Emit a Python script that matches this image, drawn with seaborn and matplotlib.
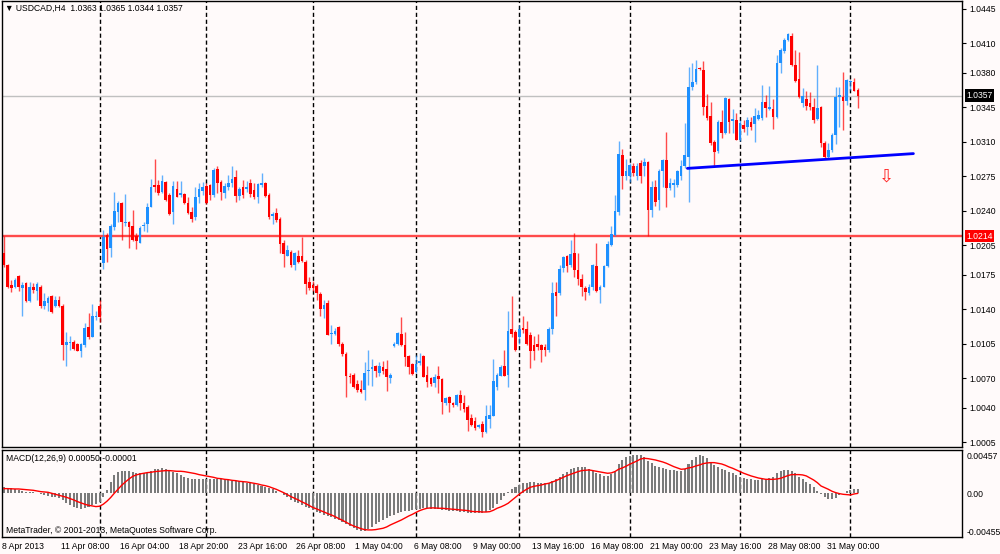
import numpy as np
import matplotlib
matplotlib.use("Agg")
import matplotlib.pyplot as plt
import matplotlib.transforms as mtransforms
import seaborn as sns

# ==========================================
# DATA (USDCAD H4)
# ==========================================
opens = [
    1.0197, 1.0185, 1.0165, 1.0163, 1.0174, 1.0161, 1.0167, 1.0148, 1.0163, 1.0158,
    1.0163, 1.0143, 1.0146, 1.0153, 1.0143, 1.0149, 1.0143, 1.0104, 1.0106, 1.0107,
    1.0105, 1.0097, 1.0104, 1.0122, 1.0112, 1.0132, 1.0143, 1.0187, 1.0215, 1.0202,
    1.0223, 1.0239, 1.0248, 1.0228, 1.0229, 1.0224, 1.0214, 1.0207, 1.0224, 1.0227,
    1.0244, 1.0266, 1.0266, 1.0259, 1.0269, 1.0256, 1.0239, 1.0262, 1.0256, 1.0257,
    1.0248, 1.0239, 1.0234, 1.0254, 1.0260, 1.0265, 1.0266, 1.0256, 1.0282, 1.0269,
    1.0258, 1.0264, 1.0268, 1.0274, 1.0255, 1.0264, 1.0262, 1.0268, 1.0261, 1.0254,
    1.0266, 1.0268, 1.0256, 1.0235, 1.0238, 1.0232, 1.0207, 1.0194, 1.0198, 1.0185,
    1.0194, 1.0194, 1.0188, 1.0168, 1.0165, 1.0164, 1.0155, 1.0140, 1.0146, 1.0115,
    1.0115, 1.0122, 1.0105, 1.0094, 1.0072, 1.0073, 1.0064, 1.0059, 1.0058, 1.0077,
    1.0079, 1.0082, 1.0075, 1.0081, 1.0079, 1.0070, 1.0103, 1.0105, 1.0115, 1.0104,
    1.0092, 1.0084, 1.0076, 1.0085, 1.0092, 1.0073, 1.0070, 1.0065, 1.0072, 1.0069,
    1.0045, 1.0051, 1.0045, 1.0043, 1.0053, 1.0045, 1.0041, 1.0029, 1.0026, 1.0020,
    1.0023, 1.0015, 1.0028, 1.0031, 1.0061, 1.0072, 1.0082, 1.0073, 1.0120, 1.0117,
    1.0112, 1.0121, 1.0120, 1.0114, 1.0104, 1.0105, 1.0104, 1.0102, 1.0099, 1.0120,
    1.0157, 1.0156, 1.0182, 1.0194, 1.0185, 1.0197, 1.0180, 1.0171, 1.0161, 1.0156,
    1.0163, 1.0184, 1.0159, 1.0163, 1.0184, 1.0205, 1.0215, 1.0239, 1.0297, 1.0275,
    1.0275, 1.0285, 1.0275, 1.0288, 1.0285, 1.0289, 1.0241, 1.0264, 1.0251, 1.0280,
    1.0292, 1.0263, 1.0266, 1.0266, 1.0275, 1.0285, 1.0295, 1.0366, 1.0371, 1.0385,
    1.0383, 1.0346, 1.0336, 1.0310, 1.0301, 1.0330, 1.0319, 1.0353, 1.0331, 1.0332,
    1.0312, 1.0327, 1.0325, 1.0330, 1.0328, 1.0333, 1.0334, 1.0350, 1.0343, 1.0343,
    1.0335, 1.0390, 1.0402, 1.0413, 1.0417, 1.0388, 1.0374, 1.0349, 1.0353, 1.0349,
    1.0345, 1.0333, 1.0345, 1.0309, 1.0295, 1.0302, 1.0317, 1.0355, 1.0355, 1.0351,
    1.0371, 1.0371, 1.0363]

highs = [
    1.0214, 1.0186, 1.0170, 1.0172, 1.0175, 1.0168, 1.0168, 1.0168, 1.0167, 1.0168,
    1.0165, 1.0156, 1.0153, 1.0154, 1.0153, 1.0153, 1.0145, 1.0117, 1.0113, 1.0109,
    1.0106, 1.0106, 1.0126, 1.0136, 1.0145, 1.0138, 1.0149, 1.0220, 1.0217, 1.0226,
    1.0259, 1.0250, 1.0249, 1.0257, 1.0230, 1.0241, 1.0217, 1.0224, 1.0229, 1.0248,
    1.0272, 1.0293, 1.0271, 1.0276, 1.0270, 1.0258, 1.0270, 1.0270, 1.0270, 1.0258,
    1.0254, 1.0244, 1.0264, 1.0268, 1.0269, 1.0268, 1.0267, 1.0283, 1.0285, 1.0271,
    1.0268, 1.0276, 1.0285, 1.0281, 1.0264, 1.0271, 1.0270, 1.0272, 1.0268, 1.0268,
    1.0278, 1.0269, 1.0258, 1.0239, 1.0243, 1.0234, 1.0210, 1.0205, 1.0200, 1.0198,
    1.0200, 1.0213, 1.0190, 1.0173, 1.0169, 1.0166, 1.0157, 1.0149, 1.0149, 1.0124,
    1.0121, 1.0123, 1.0107, 1.0096, 1.0075, 1.0075, 1.0068, 1.0068, 1.0086, 1.0099,
    1.0089, 1.0083, 1.0086, 1.0087, 1.0088, 1.0075, 1.0107, 1.0117, 1.0132, 1.0117,
    1.0093, 1.0085, 1.0093, 1.0095, 1.0093, 1.0082, 1.0071, 1.0074, 1.0082, 1.0070,
    1.0051, 1.0052, 1.0046, 1.0054, 1.0058, 1.0053, 1.0043, 1.0034, 1.0030, 1.0023,
    1.0026, 1.0043, 1.0043, 1.0089, 1.0075, 1.0083, 1.0099, 1.0138, 1.0153, 1.0119,
    1.0124, 1.0133, 1.0128, 1.0117, 1.0113, 1.0115, 1.0105, 1.0105, 1.0122, 1.0168,
    1.0168, 1.0185, 1.0194, 1.0195, 1.0210, 1.0217, 1.0197, 1.0176, 1.0164, 1.0166,
    1.0186, 1.0207, 1.0165, 1.0185, 1.0209, 1.0224, 1.0256, 1.0311, 1.0303, 1.0293,
    1.0288, 1.0288, 1.0288, 1.0292, 1.0294, 1.0290, 1.0270, 1.0271, 1.0282, 1.0293,
    1.0320, 1.0273, 1.0272, 1.0281, 1.0292, 1.0329, 1.0386, 1.0390, 1.0393, 1.0386,
    1.0392, 1.0359, 1.0350, 1.0312, 1.0332, 1.0342, 1.0356, 1.0354, 1.0343, 1.0339,
    1.0332, 1.0332, 1.0335, 1.0335, 1.0344, 1.0342, 1.0368, 1.0358, 1.0367, 1.0353,
    1.0398, 1.0405, 1.0415, 1.0420, 1.0420, 1.0403, 1.0401, 1.0365, 1.0362, 1.0361,
    1.0354, 1.0388, 1.0346, 1.0311, 1.0309, 1.0319, 1.0366, 1.0366, 1.0381, 1.0374,
    1.0373, 1.0375, 1.0365]

lows = [
    1.0183, 1.0162, 1.0157, 1.0162, 1.0158, 1.0133, 1.0147, 1.0147, 1.0156, 1.0149,
    1.0141, 1.0140, 1.0138, 1.0136, 1.0142, 1.0142, 1.0088, 1.0082, 1.0099, 1.0099,
    1.0097, 1.0091, 1.0102, 1.0110, 1.0112, 1.0129, 1.0127, 1.0181, 1.0188, 1.0193,
    1.0220, 1.0229, 1.0210, 1.0224, 1.0202, 1.0209, 1.0201, 1.0207, 1.0219, 1.0218,
    1.0244, 1.0259, 1.0256, 1.0258, 1.0250, 1.0236, 1.0227, 1.0254, 1.0254, 1.0247,
    1.0237, 1.0229, 1.0231, 1.0248, 1.0256, 1.0247, 1.0251, 1.0254, 1.0258, 1.0251,
    1.0253, 1.0261, 1.0264, 1.0249, 1.0251, 1.0253, 1.0259, 1.0254, 1.0252, 1.0248,
    1.0264, 1.0254, 1.0232, 1.0226, 1.0229, 1.0197, 1.0183, 1.0194, 1.0183, 1.0180,
    1.0187, 1.0188, 1.0155, 1.0159, 1.0158, 1.0149, 1.0133, 1.0131, 1.0114, 1.0105,
    1.0114, 1.0103, 1.0092, 1.0051, 1.0065, 1.0060, 1.0056, 1.0055, 1.0048, 1.0063,
    1.0062, 1.0071, 1.0072, 1.0074, 1.0057, 1.0065, 1.0102, 1.0104, 1.0103, 1.0082,
    1.0074, 1.0073, 1.0075, 1.0083, 1.0071, 1.0061, 1.0062, 1.0061, 1.0055, 1.0034,
    1.0043, 1.0036, 1.0041, 1.0042, 1.0038, 1.0036, 1.0016, 1.0021, 1.0017, 1.0019,
    1.0010, 1.0014, 1.0019, 1.0031, 1.0058, 1.0072, 1.0072, 1.0061, 1.0112, 1.0097,
    1.0105, 1.0116, 1.0104, 1.0080, 1.0088, 1.0099, 1.0086, 1.0092, 1.0096, 1.0115,
    1.0133, 1.0154, 1.0178, 1.0178, 1.0183, 1.0173, 1.0165, 1.0153, 1.0149, 1.0154,
    1.0159, 1.0157, 1.0146, 1.0163, 1.0183, 1.0204, 1.0214, 1.0236, 1.0262, 1.0271,
    1.0269, 1.0275, 1.0271, 1.0268, 1.0275, 1.0214, 1.0234, 1.0245, 1.0241, 1.0264,
    1.0244, 1.0261, 1.0254, 1.0264, 1.0271, 1.0283, 1.0249, 1.0363, 1.0369, 1.0383,
    1.0337, 1.0332, 1.0307, 1.0285, 1.0299, 1.0314, 1.0318, 1.0319, 1.0319, 1.0312,
    1.0311, 1.0320, 1.0317, 1.0322, 1.0310, 1.0332, 1.0332, 1.0335, 1.0342, 1.0323,
    1.0334, 1.0380, 1.0400, 1.0412, 1.0387, 1.0371, 1.0354, 1.0345, 1.0342, 1.0342,
    1.0329, 1.0332, 1.0305, 1.0293, 1.0293, 1.0300, 1.0308, 1.0325, 1.0322, 1.0347,
    1.0363, 1.0362, 1.0344]

closes = [
    1.0185, 1.0163, 1.0161, 1.0170, 1.0163, 1.0165, 1.0148, 1.0163, 1.0159, 1.0166,
    1.0143, 1.0148, 1.0151, 1.0137, 1.0149, 1.0143, 1.0104, 1.0107, 1.0107, 1.0100,
    1.0097, 1.0105, 1.0121, 1.0112, 1.0133, 1.0133, 1.0132, 1.0213, 1.0201, 1.0224,
    1.0240, 1.0248, 1.0229, 1.0229, 1.0223, 1.0210, 1.0209, 1.0222, 1.0225, 1.0244,
    1.0264, 1.0264, 1.0258, 1.0270, 1.0251, 1.0237, 1.0265, 1.0254, 1.0258, 1.0248,
    1.0238, 1.0232, 1.0254, 1.0262, 1.0264, 1.0248, 1.0256, 1.0281, 1.0268, 1.0259,
    1.0265, 1.0268, 1.0272, 1.0255, 1.0262, 1.0256, 1.0264, 1.0257, 1.0254, 1.0267,
    1.0268, 1.0255, 1.0234, 1.0237, 1.0231, 1.0206, 1.0196, 1.0200, 1.0185, 1.0197,
    1.0188, 1.0189, 1.0166, 1.0161, 1.0161, 1.0156, 1.0140, 1.0144, 1.0114, 1.0116,
    1.0118, 1.0105, 1.0094, 1.0072, 1.0071, 1.0061, 1.0058, 1.0056, 1.0075, 1.0078,
    1.0081, 1.0077, 1.0082, 1.0077, 1.0071, 1.0073, 1.0105, 1.0116, 1.0104, 1.0091,
    1.0081, 1.0074, 1.0084, 1.0087, 1.0071, 1.0066, 1.0064, 1.0071, 1.0069, 1.0046,
    1.0050, 1.0045, 1.0043, 1.0053, 1.0045, 1.0039, 1.0027, 1.0022, 1.0019, 1.0022,
    1.0015, 1.0031, 1.0033, 1.0067, 1.0073, 1.0081, 1.0072, 1.0118, 1.0115, 1.0099,
    1.0120, 1.0119, 1.0105, 1.0097, 1.0097, 1.0102, 1.0099, 1.0099, 1.0120, 1.0156,
    1.0153, 1.0181, 1.0193, 1.0184, 1.0196, 1.0180, 1.0171, 1.0163, 1.0157, 1.0163,
    1.0185, 1.0158, 1.0163, 1.0184, 1.0206, 1.0216, 1.0240, 1.0298, 1.0275, 1.0280,
    1.0286, 1.0278, 1.0285, 1.0275, 1.0289, 1.0241, 1.0264, 1.0249, 1.0280, 1.0292,
    1.0263, 1.0268, 1.0268, 1.0280, 1.0285, 1.0297, 1.0366, 1.0371, 1.0384, 1.0384,
    1.0345, 1.0334, 1.0309, 1.0300, 1.0330, 1.0319, 1.0354, 1.0330, 1.0333, 1.0312,
    1.0329, 1.0323, 1.0332, 1.0325, 1.0336, 1.0337, 1.0350, 1.0344, 1.0345, 1.0335,
    1.0390, 1.0403, 1.0413, 1.0419, 1.0388, 1.0372, 1.0356, 1.0357, 1.0346, 1.0345,
    1.0332, 1.0344, 1.0309, 1.0295, 1.0302, 1.0317, 1.0356, 1.0358, 1.0351, 1.0373,
    1.0372, 1.0362, 1.0357]

# MACD(12,26,9), in 1e-5 (points)
macd_main = [
    72, 68, 60, 52, 40, 28, 20, 16, 12, 8,
    -8, -20, -32, -40, -48, -60, -80, -112, -140, -160,
    -180, -192, -180, -160, -140, -128, -100, -40, 40, 140,
    221, 253, 265, 269, 265, 253, 241, 241, 241, 249,
    269, 289, 297, 305, 297, 281, 261, 241, 221, 200,
    180, 172, 168, 168, 168, 172, 176, 172, 172, 168,
    160, 156, 152, 148, 144, 136, 128, 120, 108, 100,
    88, 76, 60, 48, 28, 8, -20, -48, -80, -104,
    -120, -140, -160, -180, -200, -221, -241, -261, -273, -289,
    -305, -321, -345, -369, -393, -417, -441, -457, -453, -433,
    -401, -373, -349, -321, -293, -273, -261, -241, -225, -217,
    -208, -200, -192, -184, -180, -180, -184, -188, -192,
    -200, -204, -208, -213, -217, -221, -225, -233, -237, -241,
    -241, -233, -221, -200, -180, -128, -80, -32, 20, 48,
    72, 100, 120, 128, 132, 132, 128, 120, 120, 124,
    144, 172, 200, 233, 261, 289, 309, 321, 321, 313,
    293, 273, 249, 229, 213, 209, 233, 273, 353, 401,
    433, 453, 461, 461, 457, 433, 393, 361, 333, 321,
    309, 297, 285, 277, 269, 269, 289, 353, 401, 441,
    457, 449, 421, 381, 337, 313, 293, 281, 261, 241,
    221, 192, 180, 172, 168, 164, 164, 168, 172, 180,
    200, 241, 269, 281, 281, 269, 241, 200, 168, 140,
    108, 72, 32, -8, -48, -72, -72, -52, -20, 8,
    32, 40, 48, 50]

macd_signal = [
    56, 56, 54, 52, 52, 48, 44, 40, 36, 28,
    20, 16, 12, 0, -12, -24, -36, -48, -64, -80,
    -100, -116, -132, -144, -152, -160, -156, -132, -96, -52,
    0, 48, 96, 136, 172, 204, 221, 233, 241, 249,
    253, 261, 265, 269, 273, 273, 269, 265, 265, 261,
    253, 245, 237, 225, 217, 209, 200, 192, 180, 176,
    168, 164, 156, 152, 144, 140, 136, 128, 120, 112,
    100, 92, 80, 64, 48, 28, 8, -16, -40, -60,
    -80, -104, -124, -148, -172, -188, -208, -225, -245, -261,
    -281, -305, -325, -349, -373, -393, -409, -425, -437, -441,
    -441, -437, -429, -421, -405, -381, -361, -341, -321, -297,
    -273, -253, -229, -208, -192, -180, -176, -176,
    -180, -180, -184, -188, -192, -196, -200, -204, -208, -217, -221,
    -221, -225, -225, -221, -204, -180, -164, -144, -120, -84,
    -48, -12, 20, 48, 72, 84, 92, 100, 112, 120,
    136, 152, 172, 192, 213, 229, 245, 261, 273, 277,
    281, 273, 265, 257, 249, 241, 245, 261, 289, 305,
    325, 349, 369, 389, 413, 421, 417, 409, 401, 389,
    377, 361, 341, 321, 305, 289, 293, 305, 313, 329,
    341, 357, 365, 369, 369, 361, 353, 337, 317, 301,
    281, 261, 241, 225, 209, 196, 184, 176, 168, 168,
    168, 172, 180, 196, 213, 225, 225, 225, 221, 209,
    184, 160, 128, 88, 68, 48, 24, 8, -4, -12,
    -16, -20, -8, -1]

# time axis labels every 16 bars
time_labels = ['8 Apr 2013', '11 Apr 08:00', '16 Apr 04:00', '18 Apr 20:00', '23 Apr 16:00',
               '26 Apr 08:00', '1 May 04:00', '6 May 08:00', '9 May 00:00', '13 May 16:00',
               '16 May 08:00', '21 May 00:00', '23 May 16:00', '28 May 08:00', '31 May 00:00']
label_bars = [0, 16, 32, 48, 64, 80, 96, 112, 128, 144, 160, 176, 192, 208, 224]
separator_bars = [26, 55, 84, 112, 140, 170, 200, 230]

price_ticks = [1.0445, 1.0410, 1.0380, 1.0345, 1.0310, 1.0275, 1.0240, 1.0205,
               1.0175, 1.0140, 1.0105, 1.0070, 1.0040, 1.0005]
macd_ticks = [0.00457, 0.0, -0.00455]
macd_tick_labels = ['0.00457', '0.00', '-0.00455']

support_level = 1.0214
bid_price = 1.0357
trend_x = [185.7, 247.1]
trend_y = [1.0283, 1.0298]
arrow_pos = (239.9, 1.0275)

# ==========================================
# STYLE
# ==========================================
sns.set_style("white")
plt.rcParams['font.family'] = ['Liberation Sans', 'DejaVu Sans']
FS = 6.2
BG = '#FFFAFA'
BULL = '#1E90FF'
BEAR = '#FF0000'

W, H = 1000, 554
fig = plt.figure(figsize=(W / 100, H / 100), dpi=100, facecolor=BG)


def rect(x0, y0, x1, y1):
    return [x0 / W, 1 - y1 / H, (x1 - x0) / W, (y1 - y0) / H]


ax = fig.add_axes(rect(2, 1, 962, 447))
axm = fig.add_axes(rect(2, 450, 962, 537), sharex=ax)

n = len(opens)
x = np.arange(n)
o = np.array(opens)
h = np.array(highs)
l = np.array(lows)
c = np.array(closes)
up = c >= o
colors = np.where(up, BULL, BEAR)

for a in (ax, axm):
    a.set_facecolor(BG)
    for s in a.spines.values():
        s.set_color('black')
        s.set_linewidth(1.0)
    for sb in separator_bars:
        a.axvline(sb, color='black', lw=1.0, ls=(0, (3, 2)), zorder=0.5)

# candles
ax.axhline(support_level, color='#FF4A4A', lw=1.7, zorder=1)
ax.axhline(bid_price, color='#C0C0C0', lw=1.0, zorder=1)
ax.vlines(x, l, h, colors=colors, linewidth=1.0, alpha=0.7, zorder=2)
body_low = np.minimum(o, c)
body_h = np.maximum(np.abs(c - o), 0.0001)
ax.bar(x, body_h, bottom=body_low, width=0.72, color=colors, linewidth=0, zorder=3)

ax.plot(trend_x, trend_y, color='#0000FF', lw=2.0, zorder=4)
ax.text(arrow_pos[0], arrow_pos[1], '\u21e9', color='#FF2020', fontsize=13,
        family='DejaVu Sans', ha='center', va='center', zorder=5)

ax.set_xlim(-0.41, 260.3)
ax.set_ylim(1.0000, 1.0453)
ax.yaxis.tick_right()
ax.set_yticks(price_ticks)
ax.set_yticklabels([f'{p:.4f}' for p in price_ticks])
ax.tick_params(axis='y', direction='out', length=3, width=0.8, pad=2, labelsize=FS, colors='black')
ax.tick_params(axis='x', bottom=False, labelbottom=False)

# price tags on the right
tr = mtransforms.blended_transform_factory(ax.transAxes, ax.transData)
ax.text(1.0045, bid_price, f'{bid_price:.4f}', transform=tr, ha='left', va='center',
        color='white', fontsize=FS, clip_on=False, zorder=6,
        bbox=dict(boxstyle='square,pad=0.18', fc='black', ec='none'))
ax.text(1.0045, support_level, f'{support_level:.4f}', transform=tr, ha='left', va='center',
        color='white', fontsize=FS, clip_on=False, zorder=6,
        bbox=dict(boxstyle='square,pad=0.18', fc='#FF0000', ec='none'))

ax.text(0.003, 0.984, '\u25bc USDCAD,H4  1.0363 1.0365 1.0344 1.0357', transform=ax.transAxes,
        ha='left', va='center', fontsize=FS, color='black')

# MACD panel
hist = np.array(macd_main) / 1e5
sig = np.array(macd_signal) / 1e5
axm.bar(x, hist, width=0.55, color='#7A7A7A', linewidth=0, zorder=2)
sns.lineplot(x=x, y=sig, ax=axm, color='#FF0000', lw=1.0, zorder=3)
axm.set_ylim(-0.00526, 0.00521)
axm.yaxis.tick_right()
axm.set_yticks(macd_ticks)
axm.set_yticklabels(macd_tick_labels)
axm.tick_params(axis='y', direction='out', length=0, pad=3, labelsize=FS, colors='black')
axm.set_xticks([b - 0.5 for b in label_bars])
axm.set_xticklabels(time_labels, ha='left')
axm.tick_params(axis='x', direction='out', length=2.2, width=0.8, pad=1.5, labelsize=FS, colors='black')
axm.set_ylabel('')
axm.text(0.004, 0.905, 'MACD(12,26,9) 0.00050 -0.00001', transform=axm.transAxes,
         ha='left', va='center', fontsize=FS, color='black')
axm.text(0.004, 0.08, 'MetaTrader, \u00a9 2001-2013, MetaQuotes Software Corp.', transform=axm.transAxes,
         ha='left', va='center', fontsize=FS, color='black')

plt.savefig('out.png', dpi=100, facecolor=BG)
